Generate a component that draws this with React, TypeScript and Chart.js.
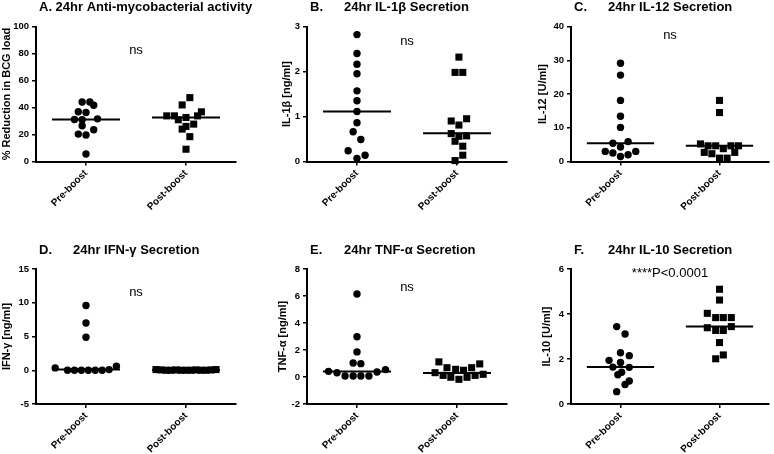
import React, { useEffect, useRef } from "react";
import { Chart, registerables } from "chart.js";

Chart.register(...registerables);

const FONT = "'Liberation Sans', Arial, sans-serif";

const CATEGORIES = ["Pre-boost", "Post-boost"];
const LETTERS = ["A.", "B.", "C.", "D.", "E.", "F."];
const TITLES = [
  "24hr Anti-mycobacterial activity",
  "24hr IL-1β Secretion",
  "24hr IL-12 Secretion",
  "24hr IFN-γ Secretion",
  "24hr TNF-α Secretion",
  "24hr IL-10 Secretion",
];
const Y_LABELS = [
  "% Reduction in BCG load",
  "IL-1β [ng/ml]",
  "IL-12 [U/ml]",
  "IFN-γ [ng/ml]",
  "TNF-α [ng/ml]",
  "IL-10 [U/ml]",
];
const Y_MIN = [0, 0, 0, -5, -2, 0];
const Y_MAX = [100, 3, 40, 15, 8, 6];
const Y_STEP = [20, 1, 10, 5, 2, 2];
const NOTES = ["ns", "ns", "ns", "ns", "ns", "****P<0.0001"];
const NOTE_Y = [82, 2.67, 37.5, 11.6, 6.66, 5.82];

// Panel A: % reduction in BCG load
const A_PRE = [44.1, 44.1, 41.7, 36.8, 36.3, 31.1, 30.9, 31.6, 26.5, 23.5, 20.3, 19.6, 5.6];
const A_PRE_JIT = [-1, 1, 2, -2, 0, -3, -1, 3, -1, 2, -2, 0, 0];
const A_POST = [47.3, 41.9, 36.8, 33.8, 33.8, 33.8, 32.6, 30.9, 27.7, 26.0, 24.0, 18.4, 9.1];
const A_POST_JIT = [1, -1, 4, -5, -3, 3, 0, -2, 2, 0, -1, 1, 0];
const A_MEDIANS = [31.1, 32.6];

// Panel B: IL-1β
const B_PRE = [2.82, 2.4, 2.16, 1.95, 1.57, 1.35, 1.11, 0.86, 0.66, 0.49, 0.24, 0.07, 0.14];
const B_PRE_JIT = [0, 0, 0, 0, 0, 0, 0, 0, -1, 1, -2.3, 0, 2.1];
const B_POST = [2.32, 1.98, 1.98, 0.9, 0.81, 0.95, 0.62, 0.56, 0.57, 0.45, 0.34, 0.14, 0.02];
const B_POST_JIT = [0.5, -0.5, 1.5, -1.5, 0.5, 2.5, -1.5, 0.5, 2.5, -0.5, 1.5, 1.5, -0.5];
const B_MEDIANS = [1.11, 0.63];

// Panel C: IL-12
const C_PRE = [29.1, 25.6, 18.1, 13.4, 10.1, 5.4, 5.9, 4.3, 3.0, 2.5, 3.0, 1.5, 2.0];
const C_PRE_JIT = [0, 0, 0, 0, 0, -2, 2, 0, -4, -2, 4, 0, 2];
const C_POST = [18.1, 14.5, 5.2, 4.65, 4.65, 3.8, 4.65, 4.65, 2.7, 2.3, 2.7, 1.0, 1.0];
const C_POST_JIT = [0, 0, -5, -3, -1, 1, 3, 5, -4, -2, 4, 0, 2];
const C_MEDIANS = [5.4, 4.7];

// Panel D: IFN-γ
const D_PRE = [9.6, 7.0, 4.9, 0.35, 0.0, 0.0, 0.0, 0.0, 0.0, 0.0, 0.1, 0.6];
const D_PRE_JIT = [0, 0, 0, -8, -4.8, -3, -1.2, 0.6, 2.4, 4.2, 6, 7.9];
const D_POST = [0.1, 0.05, 0.0, 0.0, 0.05, 0.0, 0.0, 0.0, 0.05, 0.0, 0.0, 0.05, 0.1];
const D_POST_JIT = [-7.8, -6.5, -5.2, -3.9, -2.6, -1.3, 0, 1.3, 2.6, 3.9, 5.2, 6.5, 7.8];
const D_MEDIANS = [0.1, 0.05];

// Panel E: TNF-α
const E_PRE = [6.15, 2.98, 1.86, 1.04, 0.99, 0.42, 0.32, 0.07, 0.07, 0.07, 0.07, 0.37, 0.55];
const E_PRE_JIT = [0, 0, 0, -1, 1, -7.4, -5.2, -3.1, -1, 1, 3.1, 5.2, 7.4];
const E_POST = [1.12, 0.69, 0.57, 0.5, 0.69, 0.97, 0.32, 0.12, -0.02, -0.17, -0.02, 0.12, 0.2];
const E_POST_JIT = [-4.7, -2.6, -0.35, 1.7, 3.8, 5.9, -5.7, -3.6, -1.6, 0.5, 2.6, 4.7, 6.8];
const E_MEDIANS = [0.4, 0.3];

// Panel F: IL-10
const F_PRE = [3.44, 3.11, 2.28, 1.94, 2.15, 1.64, 1.85, 1.63, 1.3, 1.41, 1.02, 0.87, 0.55];
const F_PRE_JIT = [-1, 1.2, 0, -3, 2.3, -2, 0, 2.3, -0.7, 0.3, 2.3, 1.2, -1];
const F_POST = [5.1, 4.62, 4.03, 3.84, 3.84, 3.84, 3.39, 3.27, 3.27, 3.44, 2.73, 2.01, 2.18];
const F_POST_JIT = [0, 0, -3.2, -1, 1, 3.1, -3.2, -1, 1, 3.1, 0, -1, 1];
const F_MEDIANS = [1.64, 3.44];

const PRE = [A_PRE, B_PRE, C_PRE, D_PRE, E_PRE, F_PRE];
const PRE_JIT = [A_PRE_JIT, B_PRE_JIT, C_PRE_JIT, D_PRE_JIT, E_PRE_JIT, F_PRE_JIT];
const POST = [A_POST, B_POST, C_POST, D_POST, E_POST, F_POST];
const POST_JIT = [A_POST_JIT, B_POST_JIT, C_POST_JIT, D_POST_JIT, E_POST_JIT, F_POST_JIT];
const MEDIANS = [A_MEDIANS, B_MEDIANS, C_MEDIANS, D_MEDIANS, E_MEDIANS, F_MEDIANS];

// layout (not data)
const JITTER_STEP = 0.0385;
const MEDIAN_HALF = 0.34;
const PLOT_W = 200;
const PLOT_H = 135;
const CANVAS_H = 224;
const LAYOUT = [
  { left: 0, top: 0, yW: 36, padTop: 26.5 },
  { left: 280, top: 0, yW: 27, padTop: 26.5 },
  { left: 536, top: 0, yW: 35, padTop: 26.5 },
  { left: 0, top: 230, yW: 36, padTop: 39 },
  { left: 276, top: 230, yW: 31, padTop: 39 },
  { left: 540, top: 230, yW: 31, padTop: 39 },
];

function Panel({ idx }: { idx: number }) {
  const ref = useRef<HTMLCanvasElement | null>(null);
  const L = LAYOUT[idx];
  const width = Math.min(774 - L.left, L.yW + PLOT_W + 40);
  const padRight = width - L.yW - PLOT_W;

  useEffect(() => {
    if (!ref.current) return;
    const xH = CANVAS_H - L.padTop - PLOT_H;
    const toPts = (vals: number[], jit: number[], c: number) =>
      vals.map((v, i) => ({ x: c + jit[i] * JITTER_STEP, y: v }));
    const medianLine = (c: number, m: number) => [
      { x: c - MEDIAN_HALF, y: m },
      { x: c + MEDIAN_HALF, y: m },
    ];
    const axisGrid = {
      display: true,
      drawOnChartArea: false,
      drawTicks: true,
      tickLength: 4,
      color: "#000",
      lineWidth: 1.5,
    };
    const border = { display: true, color: "#000", width: 2 };

    const textPlugin = {
      id: "panelText" + idx,
      afterDraw(chart: any) {
        const ctx = chart.ctx;
        const a = chart.chartArea;
        ctx.save();
        ctx.fillStyle = "#000";
        ctx.font = `bold 13px ${FONT}`;
        ctx.textAlign = "left";
        ctx.textBaseline = "alphabetic";
        const by = a.top - 15.5;
        if (idx === 0) {
          ctx.fillText(LETTERS[idx] + " " + TITLES[idx], a.left + 3, by);
        } else {
          ctx.fillText(LETTERS[idx], a.left + 3, by);
          ctx.fillText(TITLES[idx], a.left + 37, by);
        }
        ctx.font = `13px ${FONT}`;
        ctx.textAlign = "center";
        ctx.textBaseline = "middle";
        ctx.fillText(
          NOTES[idx],
          chart.scales.x.getPixelForValue(0.5),
          chart.scales.y.getPixelForValue(NOTE_Y[idx])
        );
        ctx.restore();
      },
    };

    const chart = new Chart(ref.current, {
      type: "scatter",
      data: {
        datasets: [
          {
            data: toPts(PRE[idx], PRE_JIT[idx], 0),
            pointStyle: "circle",
            pointRadius: 3.7,
            backgroundColor: "#000",
            borderWidth: 0,
            clip: false,
          },
          {
            data: toPts(POST[idx], POST_JIT[idx], 1),
            pointStyle: "rect",
            pointRadius: 5,
            backgroundColor: "#000",
            borderWidth: 0,
            clip: false,
          },
          {
            data: medianLine(0, MEDIANS[idx][0]),
            showLine: true,
            pointRadius: 0,
            borderColor: "#000",
            borderWidth: 2,
            clip: false,
          },
          {
            data: medianLine(1, MEDIANS[idx][1]),
            showLine: true,
            pointRadius: 0,
            borderColor: "#000",
            borderWidth: 2,
            clip: false,
          },
        ] as any,
      },
      options: {
        responsive: false,
        animation: false,
        events: [],
        layout: { padding: { top: L.padTop, left: 0, right: padRight, bottom: 0 } },
        plugins: { legend: { display: false }, tooltip: { enabled: false }, title: { display: false } },
        scales: {
          x: {
            type: "linear",
            min: -0.5,
            max: 1.5,
            afterBuildTicks: (axis: any) => {
              axis.ticks = [{ value: 0 }, { value: 1 }];
            },
            afterFit: (axis: any) => {
              axis.height = xH;
            },
            ticks: {
              callback: (v: any) => CATEGORIES[v] ?? "",
              font: { family: FONT, size: 10, weight: "bold" },
              color: "#000",
              minRotation: 45,
              maxRotation: 45,
              autoSkip: false,
              padding: 2,
            },
            grid: axisGrid,
            border,
          },
          y: {
            min: Y_MIN[idx],
            max: Y_MAX[idx],
            afterFit: (axis: any) => {
              axis.width = L.yW;
            },
            ticks: {
              stepSize: Y_STEP[idx],
              font: { family: FONT, size: 9.5, weight: "bold" },
              color: "#000",
              padding: 3,
            },
            grid: axisGrid,
            border,
            title: {
              display: true,
              text: Y_LABELS[idx],
              font: { family: FONT, size: 11, weight: "bold" },
              color: "#000",
              padding: 0,
            },
          },
        } as any,
      },
      plugins: [textPlugin],
    });
    return () => chart.destroy();
  }, [idx]);

  return (
    <canvas
      ref={ref}
      width={width}
      height={CANVAS_H}
      style={{
        position: "absolute",
        left: L.left,
        top: L.top,
        width: width,
        height: CANVAS_H,
      }}
    />
  );
}

export default function App() {
  return (
    <div
      style={{
        position: "absolute",
        left: 0,
        top: 0,
        width: 774,
        height: 454,
        background: "#fff",
        overflow: "hidden",
      }}
    >
      {[0, 1, 2, 3, 4, 5].map((i) => (
        <Panel key={i} idx={i} />
      ))}
    </div>
  );
}
